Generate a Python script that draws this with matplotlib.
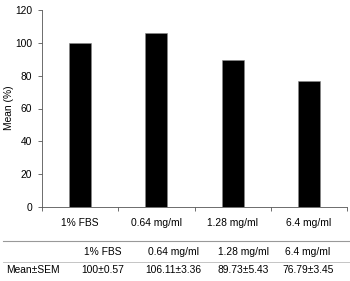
import matplotlib
matplotlib.use("Agg")
import matplotlib.pyplot as plt
from matplotlib.lines import Line2D

categories = ["1% FBS", "0.64 mg/ml", "1.28 mg/ml", "6.4 mg/ml"]
means = [100.0, 106.11, 89.73, 76.79]
sems = [0.57, 3.36, 5.43, 3.45]
row_label = "Mean±SEM"
yticks = [0, 20, 40, 60, 80, 100, 120]

plt.rcParams['font.family'] = ['Liberation Sans', 'DejaVu Sans']
W, H = 350, 281
fig = plt.figure(figsize=(W / 100, H / 100), dpi=100)
FS = 7.4

def fx(px):
    return px / W

def fy(py):
    return 1 - py / H

ax_l, ax_r, ax_t, ax_b = 42, 347, 10, 207
ax = fig.add_axes([fx(ax_l), fy(ax_b), fx(ax_r - ax_l), (ax_b - ax_t) / H])
x = list(range(len(categories)))
ax.bar(x, means, width=0.29, color='black', edgecolor='#888888', linewidth=0.4)
ax.set_xlim(-0.5, len(categories) - 0.5)
ax.set_ylim(0, 120)
ax.set_yticks(yticks)
ax.set_xticks(x)
ax.set_xticklabels(categories)
ax.set_xticks([i - 0.5 for i in range(len(categories) + 1)], minor=True)
ax.tick_params(axis='x', which='major', length=0, pad=8, labelsize=FS)
ax.tick_params(axis='x', which='minor', length=3, width=0.6, color='#555555', direction='out')
ax.tick_params(axis='y', length=3, width=0.6, color='#555555', labelsize=FS, pad=4)
for s in ['top', 'right']:
    ax.spines[s].set_visible(False)
for s in ['left', 'bottom']:
    ax.spines[s].set_color('#555555')
    ax.spines[s].set_linewidth(0.6)
fig.text(fx(9), fy(108), "Mean (%)", rotation=90, ha='center', va='center', fontsize=FS)

# table below the chart
fig.add_artist(Line2D([fx(3), fx(350)], [fy(241), fy(241)], color='#999999', lw=0.8))
fig.add_artist(Line2D([fx(3), fx(350)], [fy(262), fy(262)], color='#bbbbbb', lw=0.6))
col_x = [103, 173, 243, 308]
for cx, c in zip(col_x, categories):
    fig.text(fx(cx), fy(252), c, ha='center', va='center', fontsize=FS)
fig.text(fx(6), fy(270), row_label, ha='left', va='center', fontsize=FS)
for cx, m, s in zip(col_x, means, sems):
    ms = f"{m:g}" if m == int(m) else f"{m:.2f}"
    fig.text(fx(cx), fy(270), f"{ms}±{s:.2f}", ha='center', va='center', fontsize=FS)

fig.savefig("out.png", dpi=100)
